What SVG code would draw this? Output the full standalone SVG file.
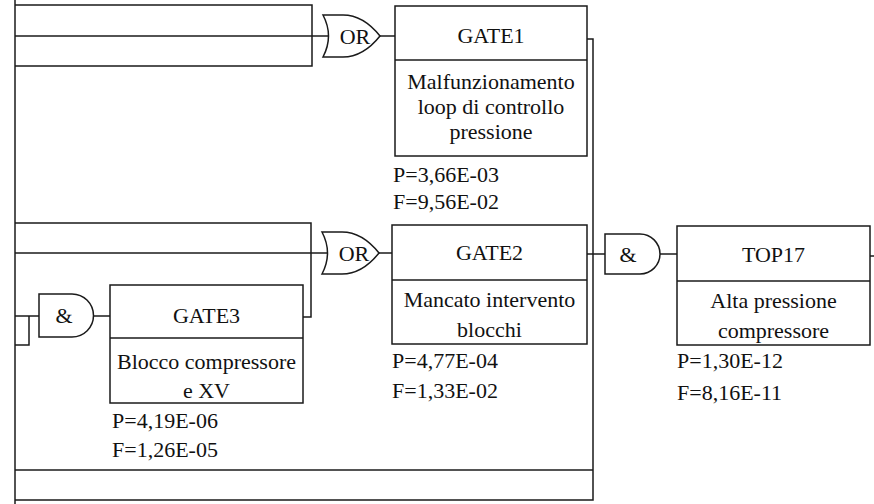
<svg xmlns="http://www.w3.org/2000/svg" width="874" height="504" viewBox="0 0 874 504">
<style>
  .ln{fill:none;stroke:#1a1a1a;stroke-width:1.5}
  .bx{fill:#fff;stroke:#1a1a1a;stroke-width:1.5}
  .t{font-family:"Liberation Serif","Times New Roman",serif;font-size:22px;fill:#111}
  .c{text-anchor:middle}
</style>
<defs>
  <path id="orShape" d="M323,15 H343 C360,15 372,26 380,36 C372,46 360,57 343,57 H323 Q334,36 323,15 Z"/>
</defs>
<rect width="874" height="504" fill="#fff"/>
<g id="connectors" class="ln">
  <path d="M15,0 V504"/>
  <path d="M15,5 H312 V66 H15"/>
  <path d="M15,36 H328.5"/>
  <path d="M380,36 H395"/>
  <path d="M587,39 H593 V500 H15"/>
  <path d="M15,470 H593"/>
  <path d="M15,223 H311 V317 H303"/>
  <path d="M15,253 H327.5"/>
  <path d="M379,253 H392"/>
  <path d="M587,254 H605"/>
  <path d="M660,254 H677"/>
  <path d="M870,256 H874"/>
  <path d="M15,316 H39"/>
  <path d="M15,345 H29 V316"/>
  <path d="M93,316 H110"/>
</g>
<g id="or1">
  <use href="#orShape" class="bx"/>
  <text class="t c" x="355" y="44">OR</text>
</g>
<g id="or2">
  <use href="#orShape" class="bx" transform="translate(-1,217)"/>
  <text class="t c" x="354" y="261">OR</text>
</g>
<g id="and3">
  <path class="bx" d="M39,294 H72 A21.5,21.5 0 0 1 72,337 H39 Z"/>
  <text class="t c" x="64" y="323">&amp;</text>
</g>
<g id="and17">
  <path class="bx" d="M605,234 H640 A20,20 0 0 1 640,274 H605 Z"/>
  <text class="t c" x="628" y="262">&amp;</text>
</g>
<g id="gate1">
  <rect class="bx" x="395" y="6" width="192" height="150"/>
  <path class="ln" d="M395,60 H587"/>
  <text class="t c" x="491" y="43">GATE1</text>
  <text class="t c" x="491" y="89">Malfunzionamento</text>
  <text class="t c" x="491" y="114">loop di controllo</text>
  <text class="t c" x="491" y="139">pressione</text>
  <text class="t" x="393" y="182">P=3,66E-03</text>
  <text class="t" x="393" y="209">F=9,56E-02</text>
</g>
<g id="gate2">
  <rect class="bx" x="392" y="225" width="195" height="119"/>
  <path class="ln" d="M392,280 H587"/>
  <text class="t c" x="489.5" y="260">GATE2</text>
  <text class="t c" x="489.5" y="307">Mancato intervento</text>
  <text class="t c" x="489.5" y="337">blocchi</text>
  <text class="t" x="392" y="368">P=4,77E-04</text>
  <text class="t" x="392" y="398">F=1,33E-02</text>
</g>
<g id="gate3">
  <rect class="bx" x="110" y="285" width="193" height="118"/>
  <path class="ln" d="M110,338 H303"/>
  <text class="t c" x="206.5" y="323">GATE3</text>
  <text class="t c" x="206.5" y="369">Blocco compressore</text>
  <text class="t c" x="206.5" y="398">e XV</text>
  <text class="t" x="112" y="428">P=4,19E-06</text>
  <text class="t" x="112" y="457">F=1,26E-05</text>
</g>
<g id="top17">
  <rect class="bx" x="677" y="226" width="193" height="119"/>
  <path class="ln" d="M677,281 H870"/>
  <text class="t c" x="773.5" y="262">TOP17</text>
  <text class="t c" x="773.5" y="308">Alta pressione</text>
  <text class="t c" x="773.5" y="338">compressore</text>
  <text class="t" x="677" y="368">P=1,30E-12</text>
  <text class="t" x="677" y="400">F=8,16E-11</text>
</g>
</svg>
